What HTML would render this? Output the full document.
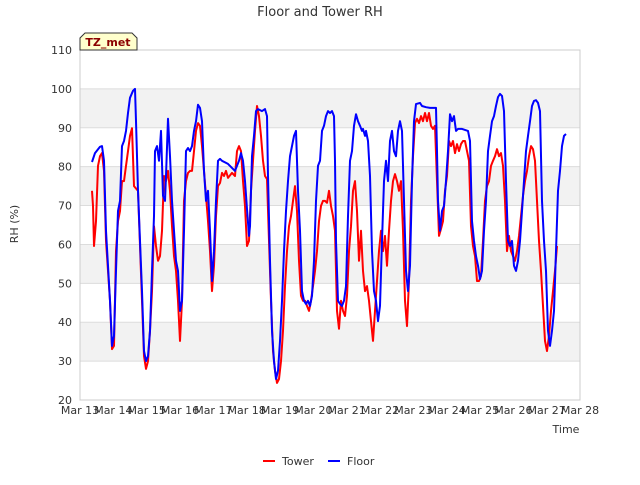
<!DOCTYPE html>
<html><head><meta charset="utf-8"><style>
body{margin:0;background:#fff;}
svg{font-family:"DejaVu Sans","Liberation Sans",sans-serif;}
</style></head><body>
<svg id="chart" width="640" height="480">
<text x="320" y="16" text-anchor="middle" font-size="13" fill="#333">Floor and Tower RH</text>
<g id="bands"></g><g id="grid"></g>
<rect x="80" y="50" width="500" height="350" fill="none" stroke="#ccc"/>
<g id="yticks"></g><g id="xticks"></g>
<g id="series"></g>
<text transform="translate(18,224) rotate(-90)" text-anchor="middle" font-size="11" fill="#333">RH (%)</text>
<text x="566" y="433" text-anchor="middle" font-size="11" fill="#333">Time</text>
<g>
<path d="M80,50 L80,38 L85,33 L132,33 L137,38 L137,50 Z" fill="#ffffcc" stroke="#333"/>
<text x="108" y="46" text-anchor="middle" font-size="11" font-weight="bold" fill="#8b0000">TZ_met</text>
</g>
<g>
<g><line x1="263" y1="461" x2="275" y2="461" stroke="red" stroke-width="2"/><text x="282" y="465" font-size="11" fill="#333">Tower</text></g>
<g><line x1="328" y1="461" x2="340" y2="461" stroke="blue" stroke-width="2"/><text x="347" y="465" font-size="11" fill="#333">Floor</text></g>
</g>
</svg>
<script>
const xTickLabels=["Mar 13","Mar 14","Mar 15","Mar 16","Mar 17","Mar 18","Mar 19","Mar 20","Mar 21","Mar 22","Mar 23","Mar 24","Mar 25","Mar 26","Mar 27","Mar 28"];
const yTickValues=[20,30,40,50,60,70,80,90,100,110];
const floorT=[0.36,0.45,0.60,0.66,0.72,0.78,0.90,0.96,1.02,1.08,1.14,1.20,1.26,1.32,1.38,1.44,1.50,1.59,1.65,1.68,1.74,1.80,1.86,1.92,1.98,2.04,2.10,2.16,2.22,2.25,2.31,2.37,2.43,2.49,2.55,2.58,2.64,2.70,2.76,2.82,2.88,2.94,3.00,3.06,3.12,3.18,3.24,3.30,3.36,3.42,3.48,3.54,3.60,3.66,3.72,3.78,3.84,3.90,3.96,4.02,4.08,4.14,4.20,4.26,4.44,4.65,4.77,4.83,4.89,4.95,5.01,5.07,5.10,5.16,5.22,5.28,5.34,5.46,5.55,5.61,5.64,5.70,5.76,5.82,5.88,5.94,6.00,6.06,6.12,6.18,6.24,6.30,6.36,6.42,6.48,6.54,6.60,6.66,6.72,6.78,6.84,6.90,6.96,7.02,7.08,7.14,7.20,7.26,7.32,7.38,7.44,7.50,7.56,7.62,7.65,7.68,7.74,7.80,7.86,7.92,7.98,8.04,8.10,8.16,8.22,8.28,8.34,8.40,8.46,8.49,8.55,8.58,8.64,8.70,8.76,8.82,8.88,8.94,9.00,9.06,9.12,9.18,9.24,9.30,9.36,9.42,9.48,9.54,9.60,9.66,9.72,9.78,9.84,9.90,9.96,10.02,10.08,10.20,10.26,10.38,10.50,10.68,10.71,10.74,10.80,10.86,10.92,10.98,11.04,11.10,11.16,11.22,11.28,11.34,11.46,11.64,11.70,11.76,11.82,11.88,11.94,12.00,12.06,12.12,12.18,12.24,12.30,12.36,12.42,12.48,12.54,12.60,12.66,12.72,12.78,12.84,12.90,12.96,13.02,13.08,13.14,13.20,13.26,13.32,13.38,13.44,13.50,13.56,13.62,13.68,13.74,13.80,13.86,13.92,13.98,14.04,14.10,14.16,14.22,14.28,14.34,14.40,14.46,14.52,14.58];
const floorV=[81.2,83.5,85.1,85.3,81.5,63.5,45.5,33.9,36.5,53.2,68.6,71.2,85.3,86.6,89.2,93.8,97.7,99.5,100,91.7,73.8,60.9,48.0,32.6,30.0,31.3,37.8,53.2,67.3,84.0,85.3,81.5,89.2,72.5,71.2,77.6,92.3,82.7,71.2,63.5,55.8,53.2,42.9,45.5,63.5,84.0,84.8,84.0,85.3,89.2,91.7,95.9,95.1,91.7,78.9,71.2,73.8,63.5,50.6,58.3,71.2,81.5,82.0,81.5,80.7,78.9,81.5,83.5,81.5,76.3,69.1,62.2,64.7,82.7,87.9,94.3,94.8,94.3,94.8,93.0,77.6,55.8,37.8,30.0,25.4,27.5,35.2,45.5,58.3,68.6,76.3,82.7,85.3,87.9,89.2,73.8,63.5,48.0,45.5,44.7,45.5,44.2,46.8,55.8,71.2,80.2,81.5,89.2,90.5,93.0,94.3,93.8,94.3,93.0,81.5,60.9,45.5,44.7,44.2,45.5,49.3,67.3,81.5,84.0,90.5,93.5,91.7,90.5,89.2,89.7,87.9,89.2,86.6,77.6,58.3,48.0,45.5,40.3,44.2,60.9,76.3,81.5,76.3,86.6,89.2,84.0,82.7,89.2,91.7,89.2,71.2,53.2,48.0,54.5,76.3,91.7,96.1,96.4,95.6,95.3,95.1,95.1,84.0,71.2,63.5,68.6,69.9,76.3,84.0,93.5,91.7,93.0,89.2,89.7,89.7,89.2,86.6,66.0,60.9,57.0,54.5,51.1,53.2,63.5,71.2,84.0,87.9,91.7,93.0,95.6,97.9,98.7,98.2,94.3,76.3,60.9,59.6,60.9,54.5,53.2,55.8,60.9,68.6,76.3,84.0,87.9,91.7,95.6,96.9,97.1,96.4,94.3,71.2,60.9,53.2,37.8,33.9,37.8,42.9,58.3,73.8,78.9,85.3,87.9,88.4];
const towerT=[0.36,0.39,0.42,0.48,0.54,0.60,0.66,0.72,0.78,0.90,0.96,1.02,1.08,1.14,1.20,1.26,1.32,1.38,1.44,1.50,1.56,1.62,1.74,1.80,1.86,1.92,1.98,2.04,2.10,2.16,2.22,2.28,2.34,2.40,2.46,2.52,2.58,2.64,2.70,2.76,2.82,2.88,2.94,3.00,3.06,3.12,3.18,3.24,3.30,3.36,3.42,3.48,3.54,3.60,3.66,3.72,3.78,3.84,3.90,3.96,4.02,4.08,4.14,4.20,4.26,4.32,4.38,4.44,4.56,4.65,4.71,4.77,4.83,4.89,4.95,5.01,5.07,5.13,5.19,5.25,5.31,5.37,5.43,5.49,5.55,5.61,5.67,5.73,5.79,5.85,5.91,5.97,6.03,6.09,6.15,6.21,6.27,6.33,6.39,6.45,6.51,6.57,6.63,6.69,6.75,6.81,6.87,6.93,6.99,7.05,7.11,7.17,7.23,7.29,7.35,7.41,7.47,7.53,7.59,7.65,7.71,7.77,7.83,7.89,7.95,8.01,8.07,8.13,8.19,8.25,8.31,8.37,8.43,8.49,8.55,8.61,8.67,8.73,8.79,8.85,8.91,8.97,9.03,9.09,9.15,9.21,9.27,9.33,9.39,9.45,9.51,9.57,9.63,9.69,9.75,9.81,9.87,9.93,9.99,10.05,10.11,10.17,10.23,10.29,10.35,10.41,10.47,10.53,10.59,10.65,10.71,10.77,10.83,10.89,10.95,11.01,11.07,11.13,11.19,11.25,11.31,11.37,11.43,11.49,11.55,11.61,11.67,11.73,11.79,11.85,11.91,11.97,12.03,12.09,12.15,12.21,12.27,12.33,12.39,12.45,12.51,12.57,12.63,12.69,12.75,12.81,12.87,12.93,12.99,13.05,13.11,13.17,13.23,13.29,13.35,13.41,13.47,13.53,13.59,13.65,13.71,13.77,13.83,13.89,13.95,14.01,14.07,14.13,14.19,14.25,14.31];
const towerV=[73.8,69.9,59.6,66.0,80.2,82.7,83.5,78.9,60.9,45.5,33.1,33.9,58.3,66.0,68.6,76.3,76.3,80.2,84.0,87.9,89.9,75.0,73.8,59.6,45.5,31.3,28.0,30.0,37.8,48.0,64.7,59.6,55.8,57.0,63.5,77.6,76.3,78.9,73.8,64.7,57.0,53.2,45.5,35.2,45.5,71.2,76.3,78.4,78.9,78.9,84.0,89.2,91.2,90.5,85.3,78.9,72.5,66.0,58.3,48.0,54.5,67.3,75.0,75.8,78.4,77.6,78.9,77.1,78.4,77.6,84.0,85.3,84.0,76.3,69.9,59.6,60.9,73.8,81.5,89.2,95.6,93.0,87.9,81.5,77.6,76.8,60.9,45.5,32.6,27.5,24.4,25.4,30.0,37.8,49.3,58.3,64.7,67.3,71.2,75.0,68.6,55.8,46.8,45.5,45.5,44.2,42.9,45.5,49.3,53.2,58.3,66.0,69.9,71.2,71.2,70.7,73.8,69.9,67.3,63.5,42.9,38.3,45.5,42.9,41.6,46.8,58.3,64.7,73.8,76.3,68.6,55.8,63.5,53.2,48.0,49.3,45.5,40.3,35.2,42.9,50.6,58.3,63.5,58.3,62.2,54.5,63.5,71.2,76.3,78.1,76.3,73.8,76.3,63.5,45.5,39.0,50.6,71.2,82.7,91.2,92.3,91.2,93.0,91.7,93.8,91.7,93.8,90.5,89.7,90.5,76.3,62.2,64.0,66.0,73.8,77.6,86.6,85.3,86.6,83.5,85.8,84.0,85.8,86.6,86.6,84.0,81.5,64.7,59.6,57.0,50.6,50.6,51.9,60.9,71.2,75.0,76.3,80.2,81.5,82.7,84.5,82.7,83.5,80.2,71.2,58.3,62.2,58.3,57.0,55.8,58.3,62.2,67.3,72.5,76.3,78.9,82.7,85.3,84.5,81.5,71.2,60.9,53.2,44.2,35.2,32.6,36.5,42.9,48.0,53.2,59.6];

const NS="http://www.w3.org/2000/svg";
const X0=80,X1=580,Y0=400,Y1=50,DMAX=15,VMIN=20,VMAX=110;
function xs(d){return X0+(X1-X0)*d/DMAX;}
function ys(v){return Y0-(Y0-Y1)*(v-VMIN)/(VMAX-VMIN);}
function mk(tag,attrs,parent){const e=document.createElementNS(NS,tag);for(const k in attrs)e.setAttribute(k,attrs[k]);document.getElementById(parent).appendChild(e);return e;}
for(let i=0;i<yTickValues.length-1;i++){
  if(i%2===1){
    const b=mk('rect',{x:X0,y:ys(yTickValues[i+1]),width:X1-X0,height:ys(yTickValues[i])-ys(yTickValues[i+1]),fill:'#f2f2f2'},'bands');
    
    
  }
}
yTickValues.forEach(v=>{
  const l=mk('line',{x1:X0,x2:X1,y1:ys(v),y2:ys(v),stroke:'#dcdcdc'},'grid');
  
  
  const t=mk('text',{x:72,y:ys(v)+4,'text-anchor':'end','font-size':11,fill:'#333'},'yticks');
  t.textContent=v;
  
  
});
xTickLabels.forEach((s,i)=>{
  const t=mk('text',{x:xs(i),y:414,'text-anchor':'middle','font-size':11,fill:'#333'},'xticks');
  t.textContent=s;
  
  
});
function series(T,V,color,name){
  const d=T.map((t,i)=>(i?'L':'M')+xs(t).toFixed(1)+','+ys(V[i]).toFixed(1)).join('');
  const p=mk('path',{d:d,fill:'none',stroke:color,'stroke-width':2,'stroke-linejoin':'round'},'series');
  
  
}
series(towerT,towerV,'red','tower-line');
series(floorT,floorV,'blue','floor-line');
</script>
</body></html>
